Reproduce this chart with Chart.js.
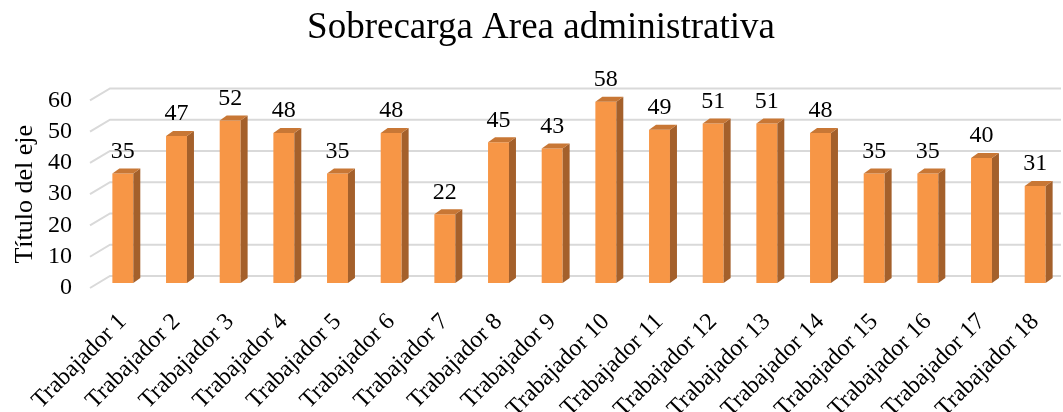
<!DOCTYPE html>
<html>
<head>
<meta charset="utf-8">
<script src="https://cdn.jsdelivr.net/npm/chart.js@4.4.1/dist/chart.umd.min.js"></script>
<style>
  html, body { margin: 0; padding: 0; background: #fff; }
  #wrap { width: 1063px; height: 412px; }
</style>
</head>
<body>
<div id="wrap"><canvas id="mycanvas"></canvas></div>
<script>
// data
const labels = [];
for (let i = 1; i <= 18; i++) labels.push('Trabajador ' + i);
const values = [35, 47, 52, 48, 35, 48, 22, 45, 43, 58, 49, 51, 51, 48, 35, 35, 40, 31];
const yTicks = [0, 10, 20, 30, 40, 50, 60];

const FONT = "'Liberation Serif', 'Times New Roman', serif";
Chart.defaults.font.family = FONT;
Chart.defaults.color = '#000';

// fake 3d look: back wall offset and bar depth
const WALL_DX = 20, WALL_DY = 12;
const BAR_LIFT = 5, DEPTH_X = 7, DEPTH_Y = 5;

const wall3d = {
  id: 'wall3d',
  beforeDatasetsDraw(chart) {
    const ctx = chart.ctx, y = chart.scales.y, area = chart.chartArea;
    ctx.save();
    ctx.strokeStyle = '#d9d9d9';
    ctx.lineWidth = 2;
    yTicks.forEach(v => {
      const py = y.getPixelForValue(v);
      ctx.beginPath();
      ctx.moveTo(area.left - 6, py);
      ctx.lineTo(area.left - 6 + WALL_DX, py - WALL_DY);
      ctx.lineTo(chart.width - 2, py - WALL_DY);
      ctx.stroke();
    });
    ctx.restore();
    // bars sit a bit behind the front edge
    ctx.save();
    ctx.translate(0, -BAR_LIFT);
  },
  afterDatasetsDraw(chart) {
    const ctx = chart.ctx;
    chart.getDatasetMeta(0).data.forEach(bar => {
      const {x, y, base, width} = bar.getProps(['x', 'y', 'base', 'width'], true);
      const l = x - width / 2, r = x + width / 2;
      // side
      ctx.fillStyle = '#a4602b';
      ctx.beginPath();
      ctx.moveTo(r, y);
      ctx.lineTo(r + DEPTH_X, y - DEPTH_Y);
      ctx.lineTo(r + DEPTH_X, base - DEPTH_Y);
      ctx.lineTo(r, base);
      ctx.closePath();
      ctx.fill();
      // top
      ctx.fillStyle = '#c87735';
      ctx.beginPath();
      ctx.moveTo(l, y);
      ctx.lineTo(l + DEPTH_X, y - DEPTH_Y);
      ctx.lineTo(r + DEPTH_X, y - DEPTH_Y);
      ctx.lineTo(r, y);
      ctx.closePath();
      ctx.fill();
    });
    ctx.restore();
    // value labels
    ctx.save();
    ctx.fillStyle = '#000';
    ctx.font = '24px ' + FONT;
    ctx.textAlign = 'center';
    ctx.textBaseline = 'middle';
    chart.getDatasetMeta(0).data.forEach((bar, i) => {
      ctx.fillText(values[i], bar.x, bar.y - BAR_LIFT - 22);
    });
    ctx.restore();
  }
};

var ctx_live = document.getElementById('mycanvas');

var myChart = new Chart(ctx_live, {
  type: 'bar',
  data: {
    labels: labels,
    datasets: [{
      data: values,
      backgroundColor: '#f79646',
      borderWidth: 0,
      barPercentage: 0.39,
      categoryPercentage: 1,
      clip: false
    }]
  },
  options: {
    responsive: true,
    maintainAspectRatio: false,
    animation: false,
    // left padding pushes the title a bit right, like the original
    layout: { padding: { left: 20, right: 1, top: 0, bottom: 0 } },
    plugins: {
      legend: { display: false },
      tooltip: { enabled: false },
      title: {
        display: true,
        text: 'Sobrecarga Area administrativa',
        color: '#000',
        font: { size: 37, weight: 'normal' },
        padding: { top: 6, bottom: 50 }
      }
    },
    scales: {
      x: {
        grid: { display: false, drawTicks: false },
        border: { display: false },
        ticks: {
          autoSkip: false,
          minRotation: 45,
          maxRotation: 45,
          padding: 20,
          font: { size: 24 },
          color: '#000'
        },
        afterFit: s => {
          s.height = 124;
          s.paddingLeft = 0;
          s.paddingRight = 0;
        }
      },
      y: {
        min: 0,
        max: 60,
        grid: { display: false, drawTicks: false },
        border: { display: false },
        afterBuildTicks: s => { s.ticks = yTicks.map(v => ({ value: v })); },
        ticks: {
          autoSkip: false,
          padding: 24,
          font: { size: 24 },
          color: '#000'
        },
        title: {
          display: true,
          text: 'Título del eje',
          color: '#000',
          font: { size: 26, weight: 'normal' },
          padding: { top: -10, bottom: 0 }
        },
        afterFit: s => { s.width = 76; }
      }
    }
  },
  plugins: [wall3d]
});
</script>
</body>
</html>
